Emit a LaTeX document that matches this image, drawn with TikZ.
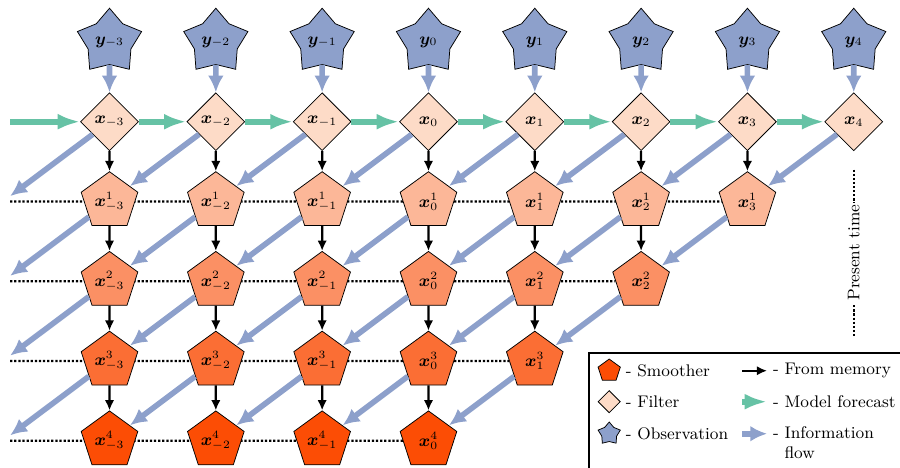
\documentclass[tikz,border=0pt]{standalone}
\usepackage{amsmath}
\usepackage{bm}
\usetikzlibrary{shapes.geometric,arrows.meta,backgrounds}

\definecolor{filtcol}{RGB}{253,219,199}
\definecolor{sm1}{RGB}{252,183,152}
\definecolor{sm2}{RGB}{251,144,100}
\definecolor{sm3}{RGB}{251,110,52}
\definecolor{sm4}{RGB}{252,77,5}
\definecolor{obscol}{RGB}{141,160,203}
\definecolor{fccol}{RGB}{102,194,165}

\begin{document}
\begin{tikzpicture}[
		filt/.style={diamond, draw, fill=filtcol, minimum size=1.09cm, inner sep=0pt},
		obs/.style={star, star points=5, star point ratio=1.5, draw, fill=obscol, minimum size=1.27cm, inner sep=0pt},
		smooth/.style={regular polygon, regular polygon sides=5, draw, minimum size=1.12cm, inner sep=1pt},
		memarrow/.style={-{Latex[length=5.5pt,width=5pt]}, line width=1.2pt},
		fcarrow/.style={-{Latex[length=12pt,width=8.5pt]}, line width=3pt, fccol},
		infoarrow/.style={-{Latex[length=9pt,width=8.5pt]}, line width=3pt, obscol},
		rowline/.style={line width=1.2pt, dash pattern=on 1.2pt off 1pt}
	]\small
				\useasboundingbox (-2.06,-6.495) rectangle (14.87,2.29);

				% observations and filter
				\foreach \t [count=\k] in {-3,...,4}{
					\node[obs] (o\k) at ({2*(\k-1)},1.5) {$\bm{y}_{\t}$};
					\node[filt] (f\k) at ({2*(\k-1)},0) {$\bm{x}_{\t}$};
					\draw[infoarrow] (o\k)--(f\k);
				}

				% smoother
				\foreach \t [count=\k] in {-3,...,4}
					\foreach \r in {1,...,4}{
						\ifnum\numexpr\k+\r\relax<9
							\node[smooth, fill=sm\r] (s\k-\r) at ({2*(\k-1)},{-1.5*\r}) {$\bm{x}^{\r}_{\t}$};
						\fi
					}

				% from memory
				\foreach \k in {1,...,7}
					\draw[memarrow] (f\k)--(s\k-1);
				\foreach \k/\n in {1/4,2/4,3/4,4/4,5/3,6/2}
					\foreach \r in {2,...,\n}{
						\pgfmathtruncatemacro\q{\r-1}
						\draw[memarrow] (s\k-\q)--(s\k-\r);
					}

				% model forecast
				\coordinate(g0) at (-1.87, 0);
				\draw[fcarrow] (g0)--(f1);
				\foreach \k [evaluate=\k as \j using int(\k+1)] in {1,...,7}
					\draw[fcarrow] (f\k)--(f\j);

				% information flow
				\foreach \r in {1,...,4}
					\coordinate(m\r) at (-1.87, {-1.5*\r+0.1});
				\draw[infoarrow] (f1)--(m1);
				\foreach \k [evaluate=\k as \j using int(\k-1)] in {2,...,8}
					\draw[infoarrow] (f\k)--(s\j-1);
				\foreach \r in {1,2,3}{
					\pgfmathtruncatemacro\q{\r+1}
					\draw[infoarrow] (s1-\r)--(m\q);
					\foreach \k in {2,...,8}{
						\pgfmathtruncatemacro\j{\k-1}
						\ifnum\numexpr\k+\r\relax<9
							\draw[infoarrow] (s\k-\r)--(s\j-\q);
						\fi
					}
				}

				\begin{pgfonlayer}{background}
					\foreach \r [evaluate=\r as \l using int(8-\r)] in {1,...,4}{
						\coordinate(d\r) at (-1.87, {-1.5*\r});
						\draw[rowline] (d\r)--(s\l-\r);
					}
				\end{pgfonlayer}

				% present time
				\coordinate(p1) at (14, -0.9);
				\coordinate(p2) at (14, -4.03);
				\draw[rowline] (p1)--node[rotate=90, fill=white, inner sep=1pt]{Present time}(p2);

				% legend
				\draw[line width=1.2pt] (9.02, -4.345) rectangle (15.5, -7.5);
				\node[smooth, fill=sm4, minimum size=0.44cm, inner sep=0pt] (ls) at (9.4, -4.684) {};
				\node[filt, minimum size=0.42cm] (lf) at (9.4, -5.267) {};
				\node[obs, minimum size=0.44cm] (lo) at (9.4, -5.869) {};
				\node[anchor=west] (ts) at (9.6, -4.684) {- Smoother};
				\node[anchor=west] (tf) at (9.6, -5.267) {- Filter};
				\node[anchor=west] (to) at (9.6, -5.869) {- Observation};

				\coordinate(la1) at (11.9, -4.684);
				\coordinate(lb1) at (12.37, -4.684);
				\coordinate(la2) at (11.9, -5.267);
				\coordinate(lb2) at (12.37, -5.267);
				\coordinate(la3) at (11.9, -5.869);
				\coordinate(lb3) at (12.37, -5.869);
				\draw[memarrow] (la1)--(lb1);
				\draw[fcarrow] (la2)--(lb2);
				\draw[infoarrow] (la3)--(lb3);
				\node[anchor=west] (tm) at (lb1) {- From memory};
				\node[anchor=west] (tc) at (lb2) {- Model forecast};
				\node[anchor=north west, align=left] (ti) at (12.37, -5.622) {- Information\\\phantom{- }flow};
			\end{tikzpicture}
\end{document}
